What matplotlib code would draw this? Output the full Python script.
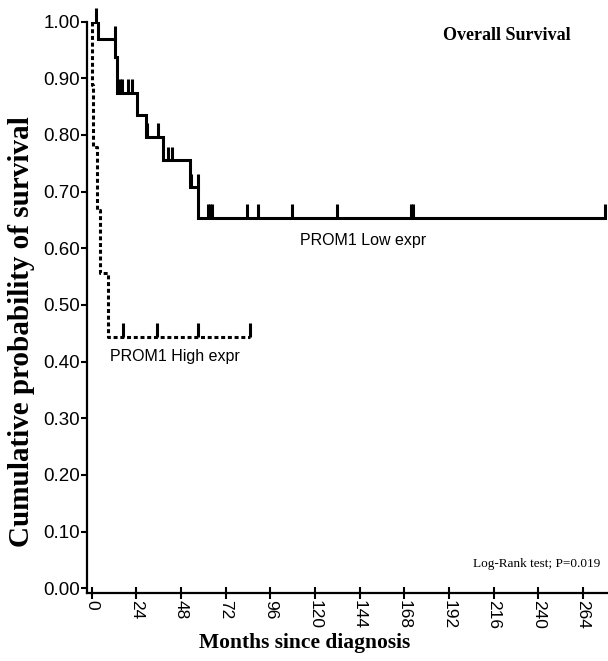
import matplotlib
matplotlib.use("Agg")
import matplotlib.pyplot as plt
import numpy as np

# ---- data ----
low_times = [0, 3.5, 12.6, 13.5, 24.3, 29.1, 38.6, 53.0, 57.4, 276]
low_surv = [1.0, 0.969, 0.938, 0.875, 0.836, 0.797, 0.755, 0.708, 0.654, 0.654]
low_cens_t = [2.4, 12.6, 15.0, 16.5, 19.5, 21.5, 29.8, 35.6, 41.0, 43.0, 53.5, 57.0,
              62.5, 63.5, 64.8, 83.7, 89.2, 107.9, 132.0, 171.5, 172.5, 276.0]
low_cens_s = [1.0, 0.969, 0.875, 0.875, 0.875, 0.875, 0.797, 0.797, 0.755, 0.755, 0.708, 0.708,
              0.654, 0.654, 0.654, 0.654, 0.654, 0.654, 0.654, 0.654, 0.654, 0.654]

high_times = [0, 0.3, 0.9, 2.7, 4.5, 8.8, 85.3]
high_surv = [1.0, 0.889, 0.778, 0.667, 0.556, 0.444, 0.444]
high_cens_t = [17.0, 35.0, 57.4, 85.3]
high_cens_s = [0.444, 0.444, 0.444, 0.444]

xticks = [0, 24, 48, 72, 96, 120, 144, 168, 192, 216, 240, 264]
yticks = [0.0, 0.1, 0.2, 0.3, 0.4, 0.5, 0.6, 0.7, 0.8, 0.9, 1.0]

fig = plt.figure(figsize=(6.08, 6.61), dpi=100)
ax = fig.add_axes([87/608, 1 - 592.7/661, 520/608, (592.7 - 21.7)/661])

lw = 2.2
ax.step(low_times, low_surv, where='post', color='black', lw=lw, solid_joinstyle='miter')
ax.vlines(low_cens_t, low_cens_s, np.array(low_cens_s) + 0.024, color='black', lw=lw, clip_on=False)

ax.step(high_times, high_surv, where='post', color='black', lw=lw, linestyle=(0, (1.3, 0.9)))
ax.vlines(high_cens_t, high_cens_s, np.array(high_cens_s) + 0.024, color='black', lw=lw, clip_on=False)

ax.set_xlim(-2.5, 277)
ax.set_ylim(-0.008, 1.0)

for s in ['top', 'right']:
    ax.spines[s].set_visible(False)
for s in ['left', 'bottom']:
    ax.spines[s].set_linewidth(1.6)

ax.set_xticks(xticks)
ax.set_xticklabels([str(v) for v in xticks], rotation=270, fontsize=12.5,
                   family='Liberation Sans')
ax.set_yticks(yticks)
ax.set_yticklabels([f"{v:.2f}" for v in yticks], fontsize=13.5, family='Liberation Sans')
ax.tick_params(axis='x', direction='inout', length=8, width=1.5, pad=1)
ax.tick_params(axis='y', direction='out', length=4, width=1.5, pad=1)

fig.text(305/608, 1 - 643/661, 'Months since diagnosis', ha='center', va='center',
         fontsize=15.5, fontweight='bold', family='Liberation Serif')
fig.text(22/608, 1 - 332/661, 'Cumulative probability of survival', ha='center', va='center',
         rotation=90, fontsize=21, fontweight='bold', family='Liberation Serif')

fig.text(571/608, 1 - 35/661, 'Overall Survival', ha='right', va='center',
         fontsize=13, fontweight='bold', family='Liberation Serif')
fig.text(300/608, 1 - 240/661, 'PROM1 Low expr', ha='left', va='center',
         fontsize=11.5, family='Liberation Sans')
fig.text(110/608, 1 - 357/661, 'PROM1 High expr', ha='left', va='center',
         fontsize=11.5, family='Liberation Sans')
fig.text(600/608, 1 - 564/661, 'Log-Rank test; P=0.019', ha='right', va='center',
         fontsize=9.5, family='Liberation Serif')

fig.savefig('out.png', dpi=100)
